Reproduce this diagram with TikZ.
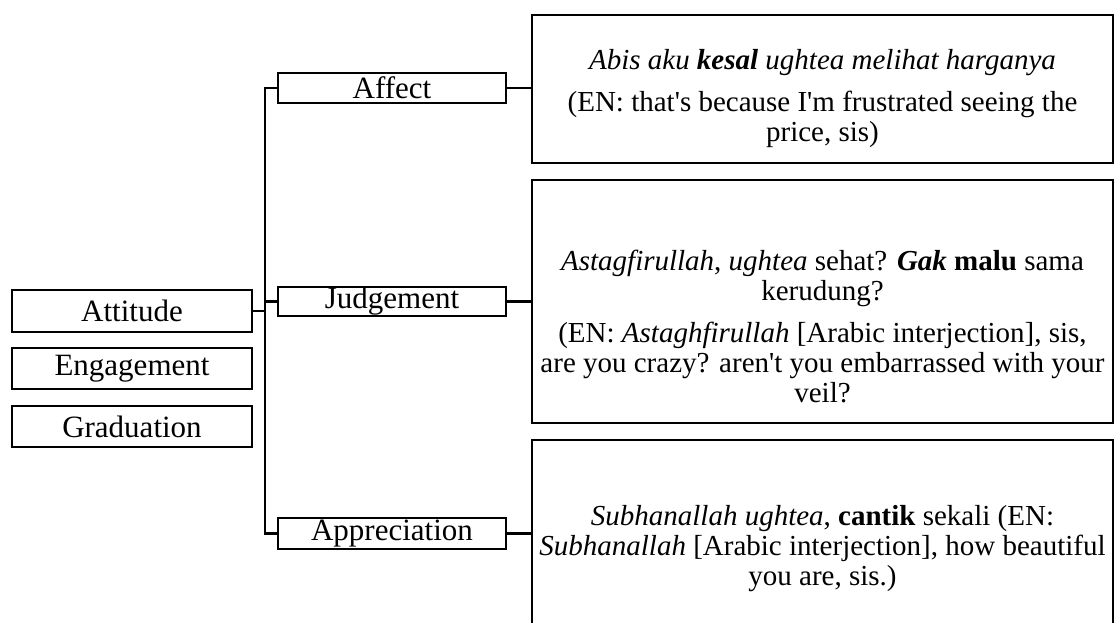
\documentclass[tikz,border=0pt]{standalone}
\usepackage{fontspec}
\setmainfont{Liberation Serif}
\begin{document}
\begin{tikzpicture}[x=1pt,y=-1pt,
  lab/.style={draw, line width=2.3pt, inner sep=0pt, font=\fontsize{31}{34}\selectfont},
  tbox/.style={draw, line width=2.3pt, minimum width=581pt, inner sep=0pt},
  ttext/.style={align=center, inner sep=0pt, anchor=north, font=\fontsize{29}{30}\selectfont},
  conn/.style={line width=2.3pt}]
\useasboundingbox (0,0) rectangle (1115,623);
\clip (0,0) rectangle (1115,623);
% left column
\node[lab, minimum width=240pt, minimum height=42pt] (att) at (132,311) {Attitude};
\node[lab, minimum width=240pt, minimum height=41pt] (eng) at (132,368.5) {Engagement};
\node[lab, minimum width=240pt, minimum height=41pt] (gra) at (132,426.5) {Graduation};
% middle column
\node[lab, minimum width=228pt, minimum height=30pt] (aff) at (392,88) {Affect};
\node[lab, minimum width=228pt, minimum height=29pt] (jud) at (392,301.5) {Judgement};
\node[lab, minimum width=228pt, minimum height=31pt] (app) at (392,533.5) {Appreciation};
% right column boxes
\node[tbox, minimum height=148pt] (affT) at (822.5,89) {};
\node[tbox, minimum height=243pt] (judT) at (822.5,301.5) {};
\node[tbox, minimum height=188pt] (appT) at (822.5,534) {};
% texts
\node[ttext] (affX) at (822.5,49) {\textit{Abis aku \textbf{kesal} ughtea melihat harganya}\\[12pt]
(EN: that\textquotesingle s because I\textquotesingle m frustrated seeing the\\ price, sis)};
\node[ttext] (judX) at (822.5,250) {\textit{Astagfirullah}, \textit{ughtea} sehat? \textbf{\textit{Gak}} \textbf{malu} sama\\ kerudung?\\[12pt]
(EN: \textit{Astaghfirullah} [Arabic interjection], sis,\\ are you crazy? aren\textquotesingle t you embarrassed with your\\ veil?};
\node[ttext] (appX) at (822.5,505) {\textit{Subhanallah ughtea}, \textbf{cantik} sekali (EN:\\ \textit{Subhanallah} [Arabic interjection], how beautiful\\ you are, sis.)};
% connectors
\coordinate (trunk) at (265,0);
\draw[conn] (aff.west) -- (aff.west -| trunk) |- (app.west);
\draw[conn] (jud.west) -- (jud.west -| trunk);
\draw[conn] (att.east) -- (att.east -| trunk);
\draw[conn] (aff.east) -- (aff.east -| affT.west);
\draw[conn] (jud.east) -- (jud.east -| judT.west);
\draw[conn] (app.east) -- (app.east -| appT.west);
\end{tikzpicture}
\end{document}
